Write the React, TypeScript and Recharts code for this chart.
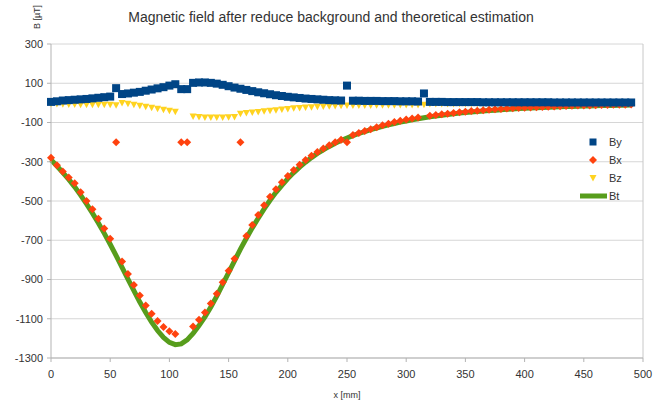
import React from 'react';
import { ComposedChart, Line, Scatter, XAxis, YAxis, CartesianGrid, ReferenceLine } from 'recharts';

// measurement positions [mm]
const xPos = [
  0, 5, 10, 15, 20, 25, 30, 35, 40, 45,
  50, 55, 60, 65, 70, 75, 80, 85, 90, 95,
  100, 105, 110, 115, 120, 125, 130, 135, 140, 145,
  150, 155, 160, 165, 170, 175, 180, 185, 190, 195,
  200, 205, 210, 215, 220, 225, 230, 235, 240, 245,
  250, 255, 260, 265, 270, 275, 280, 285, 290, 295,
  300, 305, 310, 315, 320, 325, 330, 335, 340, 345,
  350, 355, 360, 365, 370, 375, 380, 385, 390, 395,
  400, 405, 410, 415, 420, 425, 430, 435, 440, 445,
  450, 455, 460, 465, 470, 475, 480, 485, 490,
];

const byValues = [
  5, 8, 12, 14, 16, 18, 20, 23, 26, 29,
  32, 75, 45, 48, 52, 56, 62, 68, 74, 80,
  88, 95, 70, 70, 102, 104, 104, 102, 98, 92,
  85, 78, 72, 66, 60, 54, 49, 44, 39, 35,
  31, 28, 25, 22, 20, 18, 16, 14, 13, 12,
  88, 11, 11, 10, 10, 10, 9, 9, 9, 8,
  8, 8, 7, 48, 5, 5, 5, 4, 4, 4,
  4, 4, 4, 3, 3, 3, 3, 3, 3, 3,
  3, 3, 3, 3, 3, 2, 2, 2, 2, 2,
  2, 2, 2, 2, 2, 2, 2, 2, 2,
];

const bxValues: (number | null)[] = [
  -280, -318, -350, -380, -410, -455, -500, -542, -590, -640,
  -692, -200, -808, -872, -928, -982, -1032, -1075, -1112, -1142,
  -1164, -1178, -200, -200, -1140, -1105, -1068, -1022, -972, -914,
  -856, -794, -200, -678, -622, -571, -522, -478, -440, -405,
  -372, -342, -315, -291, -269, -250, -232, -216, -201, -188,
  -200, -164, -153, -143, -134, -124, -114, -106, -98, -91,
  -85, -80, -75, null, -66, -62, -58, -55, -51, -48,
  -45, -42, -40, -37, -35, -33, -31, -29, -28, -26,
  -25, -23, -22, -21, -20, -18, -17, -16, -15, -14,
  -14, -13, -12, -11, -11, -10, -9, -9, -8,
];

const bzValues: (number | null)[] = [
  -5, -6, -7, -8, -8, -9, -9, -10, -10, -10,
  -10, -12, 0, -5, -10, -15, -20, -25, -30, -35,
  -40, -45, null, null, -70, -72, -74, -75, -75, -74,
  -73, -72, -55, -52, -49, -46, -43, -40, -37, -34,
  -31, -28, -26, -24, -22, -20, -18, -17, -16, -15,
  -14, -14, -13, -13, -13, -12, -12, -12, -12, -11,
  -11, -11, -11, -10, -6, -6, -6, -6, -6, -5,
  -5, -5, -5, -5, -5, -5, -4, -4, -4, -4,
  -4, -4, -4, -4, -4, -4, -4, -3, -3, -3,
  -3, -3, -3, -3, -3, -3, -3, -3, -3,
];

const btValues = [
  -290, -322, -355, -390, -428, -470, -515, -562, -612, -665,
  -720, -778, -838, -898, -957, -1015, -1068, -1117, -1160, -1195,
  -1220, -1232, -1228, -1208, -1175, -1135, -1090, -1040, -985, -925,
  -865, -805, -745, -690, -637, -588, -540, -496, -456, -420,
  -386, -355, -327, -302, -279, -258, -239, -222, -206, -192,
  -179, -167, -156, -146, -136, -128, -120, -112, -105, -98,
  -92, -86, -81, -76, -71, -67, -63, -59, -56, -52,
  -49, -46, -44, -41, -39, -37, -35, -33, -31, -29,
  -28, -26, -25, -24, -22, -21, -20, -19, -18, -17,
  -16, -16, -15, -14, -13, -13, -12, -12, -11,
];

const xTicks = [0, 50, 100, 150, 200, 250, 300, 350, 400, 450, 500];
const yTicks = [300, 100, -100, -300, -500, -700, -900, -1100, -1300];

const COLORS = { by: '#004586', bx: '#ff420e', bz: '#ffd320', bt: '#579d1c' };
const FONT = '"Liberation Sans", Arial, sans-serif';

const toPoints = (vals: (number | null)[]) =>
  xPos.map((x, i) => ({ x, y: vals[i] })).filter((p) => p.y !== null && p.y !== undefined);

const byData = toPoints(byValues);
const bxData = toPoints(bxValues);
const bzData = toPoints(bzValues);
const btData = toPoints(btValues);

const SquareDot = (p: any) => (
  <rect x={p.cx - 4} y={p.cy - 4} width={8} height={8} fill={COLORS.by} />
);
const DiamondDot = (p: any) => (
  <polygon
    points={`${p.cx},${p.cy - 4} ${p.cx + 4},${p.cy} ${p.cx},${p.cy + 4} ${p.cx - 4},${p.cy}`}
    fill={COLORS.bx}
  />
);
const TriDownDot = (p: any) => (
  <polygon
    points={`${p.cx - 3.5},${p.cy - 3} ${p.cx + 3.5},${p.cy - 3} ${p.cx},${p.cy + 3.5}`}
    fill={COLORS.bz}
  />
);

const legendItems = [
  { name: 'By', kind: 'square', color: COLORS.by },
  { name: 'Bx', kind: 'diamond', color: COLORS.bx },
  { name: 'Bz', kind: 'triangle', color: COLORS.bz },
  { name: 'Bt', kind: 'line', color: COLORS.bt },
];

const ChartLegend = () => (
  <svg width={62} height={76} style={{ position: 'absolute', left: 572, top: 132 }}>
    {legendItems.map((it, i) => {
      const cy = 10 + i * 18;
      const cx = 21;
      let icon;
      if (it.kind === 'square') icon = <rect x={cx - 3.5} y={cy - 3.5} width={7} height={7} fill={it.color} />;
      else if (it.kind === 'diamond') icon = <DiamondDot cx={cx} cy={cy} />;
      else if (it.kind === 'triangle') icon = <TriDownDot cx={cx} cy={cy} />;
      else icon = <line x1={8} x2={35} y1={cy} y2={cy} stroke={it.color} strokeWidth={5} />;
      return (
        <g key={it.name}>
          {icon}
          <text x={37} y={cy} dy="0.35em" fontSize={11} fill="#333" fontFamily={FONT}>
            {it.name}
          </text>
        </g>
      );
    })}
  </svg>
);

export default function App() {
  return (
    <div style={{ position: 'absolute', left: 0, top: 0, width: 665, height: 405, background: '#fff', fontFamily: FONT }}>
      <ComposedChart width={665} height={405} margin={{ top: 44, right: 22, left: 6, bottom: 17 }}>
        <CartesianGrid vertical={false} stroke="#d6d6d6" />
        <XAxis
          type="number"
          dataKey="x"
          domain={[0, 500]}
          ticks={xTicks}
          interval={0}
          height={30}
          stroke="#b3b3b3"
          tickSize={4}
          tickMargin={8}
          tick={{ fontSize: 11, fill: '#333', fontFamily: FONT }}
        />
        <YAxis
          type="number"
          dataKey="y"
          domain={[-1300, 300]}
          ticks={yTicks}
          interval={0}
          width={45}
          stroke="#b3b3b3"
          tickSize={4}
          tickMargin={4}
          tick={{ fontSize: 11, fill: '#333', fontFamily: FONT }}
        />
        <ReferenceLine x={500} stroke="#c8c8c8" />
        <Line
          data={btData}
          dataKey="y"
          stroke={COLORS.bt}
          strokeWidth={5}
          dot={false}
          type="linear"
          isAnimationActive={false}
        />
        <Scatter data={bzData} dataKey="y" name="Bz" shape={TriDownDot} isAnimationActive={false} />
        <Scatter data={bxData} dataKey="y" name="Bx" shape={DiamondDot} isAnimationActive={false} />
        <Scatter data={byData} dataKey="y" name="By" shape={SquareDot} isAnimationActive={false} />
      </ComposedChart>
      <div style={{ position: 'absolute', left: 0, width: 662, top: 9, textAlign: 'center', fontSize: 14, color: '#333' }}>
        Magnetic field after reduce background and theoretical estimation
      </div>
      <div
        style={{
          position: 'absolute',
          left: 37,
          top: 17,
          transform: 'translate(-50%, -50%) rotate(-90deg)',
          fontSize: 9,
          color: '#333',
          whiteSpace: 'nowrap',
        }}
      >
        B [µT]
      </div>
      <div style={{ position: 'absolute', left: 51, width: 592, top: 390, textAlign: 'center', fontSize: 9, color: '#333' }}>
        x [mm]
      </div>
      <ChartLegend />
    </div>
  );
}
